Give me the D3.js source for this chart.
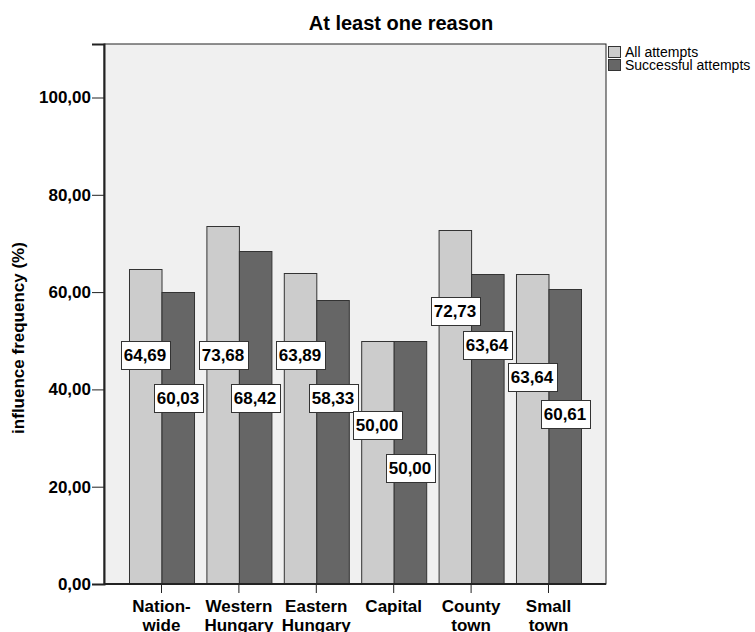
<!DOCTYPE html>
<html lang="en">
<head>
    <meta charset="UTF-8">
    <title>At least one reason</title>
    <script src="https://d3js.org/d3.v7.min.js"></script>
    <style>
        body { margin: 0; background: #fff; }
        svg { display: block; font-family: Arial, "Liberation Sans", sans-serif; }
        .title { font-size: 20px; font-weight: bold; text-anchor: middle; }
        .axis-title { font-size: 17px; font-weight: bold; text-anchor: middle; }
        .tick-text { font-size: 17px; font-weight: bold; }
        .cat-label { font-size: 17px; font-weight: bold; text-anchor: middle; }
        .legend-text { font-size: 14px; }
        .data-label { font-size: 17px; font-weight: bold; text-anchor: middle; }
    </style>
</head>
<body>
<script>
    // data
    var categories = [["Nation-", "wide"], ["Western", "Hungary"], ["Eastern", "Hungary"], ["Capital"], ["County", "town"], ["Small", "town"]];
    var seriesNames = ["All attempts", "Successful attempts"];
    var allAttempts = [64.69, 73.68, 63.89, 50.00, 72.73, 63.64];
    var successfulAttempts = [60.03, 68.42, 58.33, 50.00, 63.64, 60.61];
    var yTicks = [0, 20, 40, 60, 80, 100];

    var w = 755;
    var h = 632;
    var plot = { left: 104, right: 606, top: 44, bottom: 584 };
    var colors = ["#cccccc", "#666666"];

    // where SPSS put the boxed labels (in axis units), All / Successful
    var labelLevels = [
        [47.1, 38.2], [47.1, 38.2], [47.1, 38.2],
        [32.7, 23.8], [56.1, 49.2], [42.5, 34.9]
    ];

    var svg = d3.select("body").append("svg")
        .attr("width", w)
        .attr("height", h);

    var xScale = d3.scaleBand()
        .domain(d3.range(categories.length))
        .range([plot.left, plot.right])
        .paddingInner(0.16)
        .paddingOuter(0.323);

    var xSub = d3.scaleBand()
        .domain(d3.range(seriesNames.length))
        .range([0, xScale.bandwidth()]);

    var yScale = d3.scaleLinear()
        .domain([0, 111])
        .range([plot.bottom, plot.top]);

    // plot background
    svg.append("rect")
        .attr("x", plot.left)
        .attr("y", plot.top)
        .attr("width", plot.right - plot.left)
        .attr("height", plot.bottom - plot.top)
        .attr("fill", "#f0f0f0")
        .attr("stroke", "#222")
        .attr("stroke-width", 1);

    svg.append("text")
        .attr("class", "title")
        .attr("x", 401)
        .attr("y", 30)
        .text("At least one reason");

    // bars
    var rows = categories.map(function (c, i) {
        return [allAttempts[i], successfulAttempts[i]];
    });

    var groups = svg.selectAll(".group")
        .data(rows)
        .enter()
        .append("g")
        .attr("class", "group")
        .attr("transform", function (d, i) { return "translate(" + xScale(i) + ",0)"; });

    groups.selectAll("rect")
        .data(function (d) { return d; })
        .enter()
        .append("rect")
        .attr("x", function (d, j) { return xSub(j) + 0.5; })
        .attr("y", function (d) { return Math.round(yScale(d)) + 0.5; })
        .attr("width", xSub.bandwidth())
        .attr("height", function (d) { return plot.bottom - Math.round(yScale(d)); })
        .attr("fill", function (d, j) { return colors[j]; })
        .attr("stroke", "#333")
        .attr("stroke-width", 1);

    // axes
    var yAxis = d3.axisLeft(yScale)
        .tickValues(yTicks)
        .tickSize(12)
        .tickPadding(1)
        .tickFormat(function (d) { return d3.format(".2f")(d).replace(".", ","); });

    var yg = svg.append("g")
        .attr("transform", "translate(" + plot.left + ",0)")
        .call(yAxis);
    yg.select(".domain").attr("stroke", "#222").attr("stroke-width", 2);
    yg.selectAll(".tick line").attr("stroke", "#222");
    yg.selectAll(".tick text").attr("class", "tick-text").attr("fill", "#000");

    var xAxis = d3.axisBottom(xScale)
        .tickSize(9)
        .tickFormat("");

    var xg = svg.append("g")
        .attr("transform", "translate(0," + plot.bottom + ")")
        .call(xAxis);
    xg.select(".domain").attr("stroke", "#222").attr("stroke-width", 2)
        .attr("d", "M" + plot.left + ",0H" + plot.right);
    xg.selectAll(".tick line").attr("stroke", "#222");

    xg.selectAll(".tick")
        .append("text")
        .attr("class", "cat-label")
        .attr("fill", "#000")
        .selectAll("tspan")
        .data(function (d) { return categories[d]; })
        .enter()
        .append("tspan")
        .attr("x", 0)
        .attr("y", function (d, k) { return 28 + k * 19; })
        .text(function (d) { return d; });

    svg.append("text")
        .attr("class", "axis-title")
        .attr("transform", "translate(24," + 338 + ") rotate(-90)")
        .text("influence frequency (%)");

    // value labels in boxes
    var fmt = function (v) { return d3.format(".2f")(v).replace(".", ","); };
    var labelData = [];
    rows.forEach(function (r, i) {
        r.forEach(function (v, j) {
            labelData.push({ i: i, j: j, v: v });
        });
    });

    var labels = svg.selectAll(".data-label-g")
        .data(labelData)
        .enter()
        .append("g")
        .attr("class", "data-label-g")
        .attr("transform", function (d) {
            var cx = Math.round(xScale(d.i) + xSub(d.j) + xSub.bandwidth() / 2);
            var cy = Math.round(yScale(labelLevels[d.i][d.j]));
            return "translate(" + cx + "," + cy + ")";
        });

    labels.append("text")
        .attr("class", "data-label")
        .attr("y", 6)
        .text(function (d) { return fmt(d.v); });

    labels.each(function () {
        var g = d3.select(this);
        var bb = g.select("text").node().getBBox();
        g.insert("rect", "text")
            .attr("x", Math.round(bb.x - 3) + 0.5)
            .attr("y", -13.5)
            .attr("width", Math.round(bb.width + 6))
            .attr("height", 28)
            .attr("fill", "#fff")
            .attr("stroke", "#333")
            .attr("stroke-width", 1);
    });

    // legend
    var legend = svg.selectAll(".legend")
        .data(seriesNames)
        .enter()
        .append("g")
        .attr("class", "legend")
        .attr("transform", function (d, i) { return "translate(608," + (46 + i * 13) + ")"; });

    legend.append("rect")
        .attr("x", 0.5)
        .attr("y", 0.5)
        .attr("width", 12)
        .attr("height", 11)
        .attr("fill", function (d, i) { return colors[i]; })
        .attr("stroke", "#333");

    legend.append("text")
        .attr("class", "legend-text")
        .attr("x", 17)
        .attr("y", 11)
        .text(function (d) { return d; });
</script>
</body>
</html>
